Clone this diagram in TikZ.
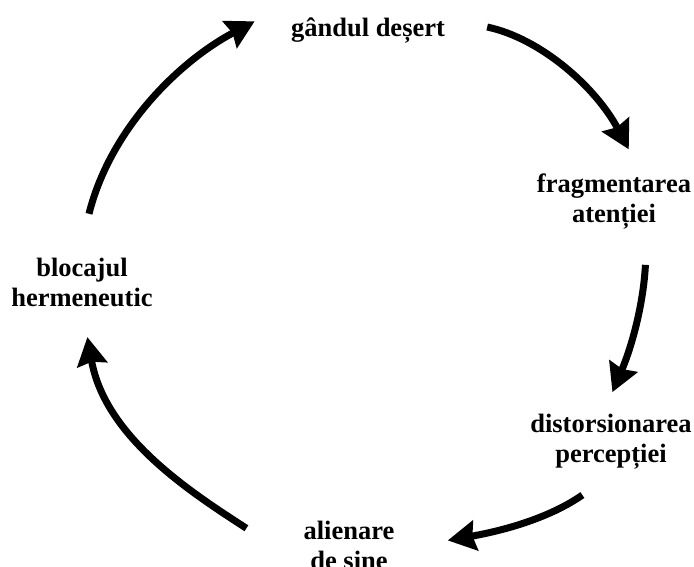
\documentclass[tikz,border=0pt]{standalone}
\usepackage{fontspec}
\setmainfont{Liberation Serif}
\usetikzlibrary{arrows.meta}

\begin{document}
\begin{tikzpicture}[x=1pt, y=1pt,
  every node/.style={font=\bfseries\fontsize{26.5}{30}\selectfont},
  lbl/.style ={align=center, inner sep=0pt},
  cyc/.style ={-{Stealth[length=28pt, width=30pt, inset=3pt]},
               line width=7pt}]

%% page frame
\useasboundingbox (0,0) rectangle (694,-566);

%% the five stations of the cycle
\node[lbl] (gand)  at (368, -31)  {gândul deșert};
\node[lbl] (frag)  at (614, -202) {fragmentarea\\atenției};
\node[lbl] (dist)  at (611, -442) {distorsionarea\\percepției};
\node[lbl] (alien) at (349, -545) {alienare\\de sine};
\node[lbl] (bloc)  at (82,  -282) {blocajul\\hermeneutic};

%% arrows, clockwise
\draw[cyc, shorten <=43pt, shorten >=28pt]
    (gand.north east) to[out=-12, in=118] (frag.45);
\draw[cyc, shorten <=35pt, shorten >=24pt]
    (frag.-40) to[out=-93, in=67] (dist.106);
\draw[cyc, shorten <=44pt, shorten >=54pt]
    (dist.-75) to[out=-145, in=10] (alien.-6);
\draw[cyc, shorten <=68pt, shorten >=31pt]
    (alien.-156) to[out=147, in=-80] (bloc.south);
\draw[cyc, shorten <=45pt, shorten >=41pt]
    (bloc.99) to[out=76, in=-152] ([yshift=16pt]gand.north west);
\end{tikzpicture}
\end{document}
